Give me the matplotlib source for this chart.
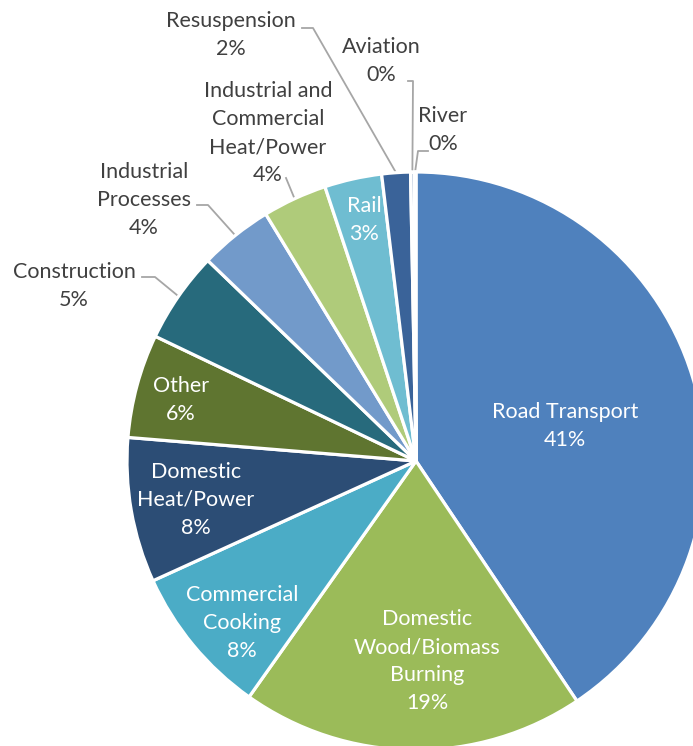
import numpy as np
import matplotlib
matplotlib.use("Agg")
import matplotlib.pyplot as plt

plt.rcParams['font.family'] = ['Lato', 'DejaVu Sans']

categories = ["Road Transport", "Domestic\nWood/Biomass\nBurning", "Commercial\nCooking",
              "Domestic\nHeat/Power", "Other", "Construction", "Industrial\nProcesses",
              "Industrial and\nCommercial\nHeat/Power", "Rail", "Resuspension", "Aviation", "River"]
values = [40.6, 19.2, 8.4, 8.1, 5.8, 5.1, 4.1, 3.6, 3.2, 1.6, 0.2, 0.1]
colors = ["#4F81BD", "#9BBB59", "#4BACC6", "#2C4D75", "#5F7530", "#276A7C", "#729ACA",
          "#AFCB7A", "#6FBDD1", "#3A6399", "#3A6399", "#4F81BD"]

W, H = 693, 746
fig = plt.figure(figsize=(W / 100, H / 100), dpi=100)
ax = fig.add_axes([0, 0, 1, 1])

def Y(p):
    return H - p

cx, cy, R = 416, Y(461), 289
wedges, _ = ax.pie(values, colors=colors, startangle=90, counterclock=False,
                   center=(cx, cy), radius=R, frame=True,
                   wedgeprops=dict(edgecolor="white", linewidth=2.3))
ax.set_xlim(0, W)
ax.set_ylim(0, H)
ax.set_aspect('equal')
ax.axis('off')

total = sum(values)
labels = [f"{c}\n{round(v / total * 100):.0f}%" for c, v in zip(categories, values)]

# (x, y) label centres in pixel coords, text colour
label_pos = [(565, 426, 'white'), (427, 661, 'white'), (242, 623, 'white'), (196, 500, 'white'),
             (181, 400, 'white'), (74, 286, '#404040'), (144, 200, '#404040'),
             (268, 133, '#404040'), (364, 220, 'white'), (231, 35, '#404040'),
             (381, 61, '#404040'), (443, 130, '#404040')]

for lab, (x, y, c) in zip(labels, label_pos):
    ax.text(x, Y(y), lab, ha='center', va='center', color=c, fontsize=15.5,
            linespacing=1.5)

# leader lines: elbow points in pixel coords, ending on the wedge edge at mid angle
leaders = {5: [(142, 277), (155, 277)], 6: [(197, 205), (208, 205)],
           7: [(286, 178)], 9: [(302, 28), (313, 28)],
           10: [(408, 81), (413, 81)], 11: [(428, 151), (418, 151)]}
for i, pts in leaders.items():
    w = wedges[i]
    mid = np.deg2rad((w.theta1 + w.theta2) / 2)
    ex, ey = cx + R * np.cos(mid), cy + R * np.sin(mid)
    xs = [p[0] for p in pts] + [ex]
    ys = [Y(p[1]) for p in pts] + [ey]
    ax.plot(xs, ys, color='#A6A6A6', linewidth=1.3, zorder=0.5)

fig.savefig("out.png", dpi=100)
